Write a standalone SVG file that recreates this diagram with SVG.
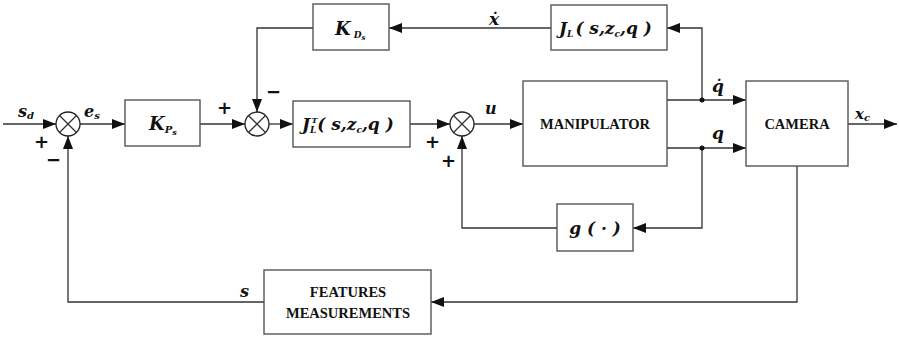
<svg xmlns="http://www.w3.org/2000/svg" width="899" height="340" viewBox="0 0 899 340">
<defs>
<marker id="arr" markerWidth="14" markerHeight="10" refX="13" refY="5" orient="auto" markerUnits="userSpaceOnUse">
<path d="M0,0 L13,5 L0,10 Z" fill="#111"/>
</marker>
</defs>
<style>
.box{fill:#fff;stroke:#555;stroke-width:1.4}
.ln{fill:none;stroke:#333;stroke-width:1.3}
.sum{fill:#fff;stroke:#222;stroke-width:1.3}
.m{font-family:"DejaVu Serif","Liberation Serif",serif;font-style:italic;font-weight:bold;fill:#111}
.t{font-family:"Liberation Serif","DejaVu Serif",serif;font-weight:bold;fill:#111;font-size:14.5px}
.sg{font-family:"DejaVu Sans","Liberation Sans",sans-serif;font-weight:bold;fill:#111;font-size:18px}
</style>
<rect width="899" height="340" fill="#fff"/>
<g id="connectors">
<line class="ln" x1="3" y1="124" x2="56" y2="124" marker-end="url(#arr)"/>
<line class="ln" x1="80" y1="124" x2="125" y2="124" marker-end="url(#arr)"/>
<line class="ln" x1="200" y1="124" x2="245" y2="124" marker-end="url(#arr)"/>
<polyline class="ln" points="313,28 257,28 257,112" marker-end="url(#arr)"/>
<line class="ln" x1="269" y1="124" x2="293" y2="124" marker-end="url(#arr)"/>
<line class="ln" x1="410" y1="124" x2="450" y2="124" marker-end="url(#arr)"/>
<line class="ln" x1="474" y1="124" x2="523" y2="124" marker-end="url(#arr)"/>
<line class="ln" x1="551" y1="28" x2="389" y2="28" marker-end="url(#arr)"/>
<line class="ln" x1="667" y1="100" x2="746" y2="100" marker-end="url(#arr)"/>
<line class="ln" x1="667" y1="148" x2="746" y2="148" marker-end="url(#arr)"/>
<polyline class="ln" points="702,100 702,28 667,28" marker-end="url(#arr)"/>
<polyline class="ln" points="702,148 702,228 633,228" marker-end="url(#arr)"/>
<polyline class="ln" points="557,228 462,228 462,136" marker-end="url(#arr)"/>
<line class="ln" x1="848" y1="124" x2="897" y2="124" marker-end="url(#arr)"/>
<polyline class="ln" points="797,166 797,302 431,302" marker-end="url(#arr)"/>
<polyline class="ln" points="264,302 68,302 68,136" marker-end="url(#arr)"/>
<circle cx="702" cy="100" r="2.5" fill="#111"/>
<circle cx="702" cy="148" r="2.5" fill="#111"/>
</g>
<g id="sum1">
<circle class="sum" cx="68" cy="124" r="12"/>
<path class="ln" d="M59.5,115.5 L76.5,132.5 M76.5,115.5 L59.5,132.5"/>
</g>
<g id="sum2">
<circle class="sum" cx="257" cy="124" r="12"/>
<path class="ln" d="M248.5,115.5 L265.5,132.5 M265.5,115.5 L248.5,132.5"/>
</g>
<g id="sum3">
<circle class="sum" cx="462" cy="124" r="12"/>
<path class="ln" d="M453.5,115.5 L470.5,132.5 M470.5,115.5 L453.5,132.5"/>
</g>
<g id="kp">
<rect class="box" x="125" y="100" width="75" height="46"/>
<text class="m" x="149" y="130" font-size="18">K<tspan font-size="10" dy="3">P</tspan><tspan font-size="8" dy="2">s</tspan></text>
</g>
<g id="kd">
<rect class="box" x="313" y="4" width="76" height="46"/>
<text class="m" x="335" y="35" font-size="18">K<tspan font-size="9" dy="3" dx="3">D</tspan><tspan font-size="7" dy="2">s</tspan></text>
</g>
<g id="jl">
<rect class="box" x="551" y="5" width="116" height="45"/>
<text class="m" x="559" y="34" font-size="17">J<tspan font-size="9" dy="3">L</tspan><tspan dy="-3" dx="2">( s,z</tspan><tspan font-size="9" dy="3">c</tspan><tspan dy="-3">,q )</tspan></text>
</g>
<g id="jlt">
<rect class="box" x="293" y="101" width="117" height="46"/>
<text class="m" x="302" y="130" font-size="17">J<tspan font-size="9" dy="3">L</tspan><tspan font-size="8" dx="-5" dy="-10">T</tspan><tspan dy="7">( s,z</tspan><tspan font-size="9" dy="3">c</tspan><tspan dy="-3">,q )</tspan></text>
</g>
<g id="manipulator">
<rect class="box" x="523" y="81" width="144" height="85"/>
<text class="t" x="595" y="129" text-anchor="middle">MANIPULATOR</text>
</g>
<g id="camera">
<rect class="box" x="746" y="81" width="102" height="85"/>
<text class="t" x="797" y="129" text-anchor="middle">CAMERA</text>
</g>
<g id="g">
<rect class="box" x="557" y="204" width="76" height="47"/>
<text class="m" x="595" y="234" font-size="17" text-anchor="middle">g ( · )</text>
</g>
<g id="features">
<rect class="box" x="264" y="270" width="167" height="64"/>
<text class="t" x="348" y="297" text-anchor="middle">FEATURES</text>
<text class="t" x="348" y="318" text-anchor="middle">MEASUREMENTS</text>
</g>
<g id="labels">
<text class="m" x="18" y="117" font-size="16">s<tspan font-size="10" dy="2">d</tspan></text>
<text class="sg" x="34" y="148">+</text>
<text class="sg" x="46" y="166">−</text>
<text class="m" x="84" y="117" font-size="16">e<tspan font-size="10" dy="2">s</tspan></text>
<text class="sg" x="217" y="114">+</text>
<text class="sg" x="266" y="98">−</text>
<text class="sg" x="425" y="148">+</text>
<text class="sg" x="441" y="167">+</text>
<text class="m" x="485" y="114" font-size="16">u</text>
<text class="m" x="489" y="25" font-size="17">ẋ</text>
<text class="m" x="712" y="92" font-size="17">q̇</text>
<text class="m" x="712" y="139" font-size="17">q</text>
<text class="m" x="855" y="119" font-size="15">x<tspan font-size="10" dy="2">c</tspan></text>
<text class="m" x="240" y="297" font-size="16">s</text>
</g>
</svg>
